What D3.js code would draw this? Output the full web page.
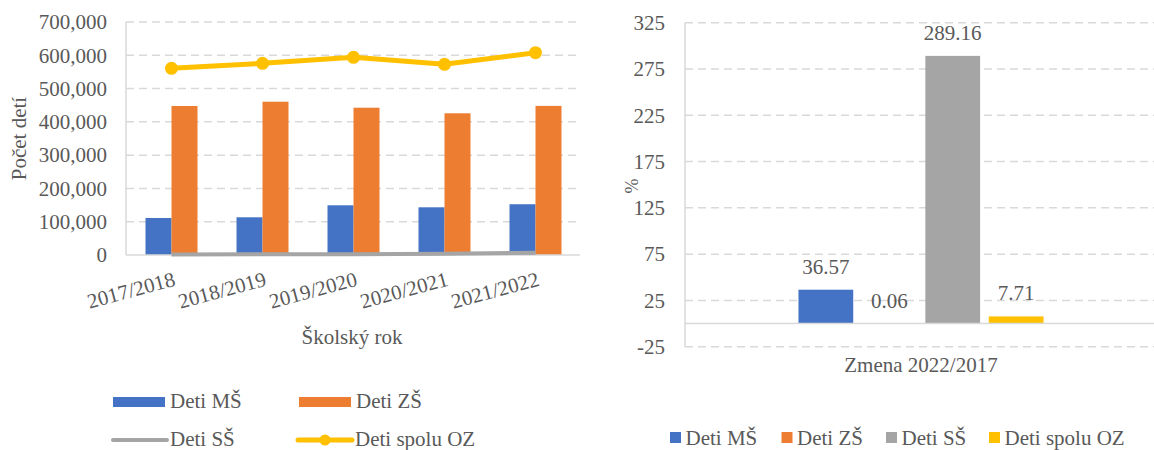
<!doctype html>
<html lang="sk">
  <head>
    <meta charset="utf-8">
    <title>Deti</title>
    <script src="https://d3js.org/d3.v7.min.js"></script>
    <style>
      body { margin: 0; background: #fff; }
      svg text { font-family: "Liberation Serif", Tinos, "DejaVu Serif", serif; fill: #595959; font-size: 21px; }
      .grid { stroke: #d9d9d9; stroke-width: 1.5; stroke-dasharray: 8,5; }
      .axisline { stroke: #d9d9d9; stroke-width: 1.5; }
    </style>
  </head>
  <body>
    <svg id="chart"></svg>
    <script>
      // data
      var years = ["2017/2018", "2018/2019", "2019/2020", "2020/2021", "2021/2022"];
      var detiMS = [111200, 113300, 149300, 143300, 152500];
      var detiZS = [447700, 460600, 442500, 425700, 448000];
      var detiSS = [1700, 2000, 2600, 3900, 6600];
      var detiOZ = [560900, 575800, 593800, 572800, 607900];
      var leftTicks = [0, 100000, 200000, 300000, 400000, 500000, 600000, 700000];

      var changeLabel = ["Zmena 2022/2017"];
      var seriesNames = ["Deti MŠ", "Deti ZŠ", "Deti SŠ", "Deti spolu OZ"];
      var changeValues = [36.57, 0.06, 289.16, 7.71];
      var rightTicks = [-25, 25, 75, 125, 175, 225, 275, 325];

      var colors = ["#4472C4", "#ED7D31", "#A5A5A5", "#FFC000"];

      var svg = d3.select("#chart")
        .attr("width", 1154)
        .attr("height", 450)
        .attr("font-family", "Liberation Serif, serif");

      // ---------- left chart ----------
      var x = d3.scaleBand().domain(years).range([126, 581]);
      var xs = d3.scaleBand().domain([0, 1]).range([0, 52]);
      var y = d3.scaleLinear().domain([0, 700000]).range([255, 22]);

      var left = svg.append("g");

      left.selectAll(".grid").data(leftTicks.slice(1)).enter()
        .append("line")
        .attr("class", "grid")
        .attr("x1", 126).attr("x2", 580)
        .attr("y1", function(d){ return y(d) })
        .attr("y2", function(d){ return y(d) });

      left.append("line").attr("class", "axisline")
        .attr("x1", 126).attr("x2", 126).attr("y1", y(700000)).attr("y2", y(0));

      left.selectAll(".ytick").data(leftTicks).enter()
        .append("text")
        .attr("class", "ytick")
        .attr("x", 107)
        .attr("y", function(d){ return y(d) })
        .attr("dy", "0.35em")
        .attr("text-anchor", "end")
        .text(d3.format(","));

      var barSeries = [detiMS, detiZS];
      barSeries.forEach(function(vals, s){
        left.selectAll(".bar" + s).data(vals).enter()
          .append("rect")
          .attr("class", "bar" + s)
          .attr("fill", colors[s])
          .attr("x", function(d, i){ return x(years[i]) + x.bandwidth() / 2 - 26 + xs(s) })
          .attr("width", xs.bandwidth())
          .attr("y", function(d){ return y(d) })
          .attr("height", function(d){ return y(0) - y(d) });
      });

      left.append("line").attr("class", "axisline")
        .attr("x1", 126).attr("x2", 580).attr("y1", y(0)).attr("y2", y(0));

      var line = d3.line()
        .x(function(d, i){ return x(years[i]) + x.bandwidth() / 2 })
        .y(function(d){ return y(d) });

      left.append("path").datum(detiSS)
        .attr("d", line)
        .attr("fill", "none")
        .attr("stroke", colors[2])
        .attr("stroke-width", 4);

      left.append("path").datum(detiOZ)
        .attr("d", line)
        .attr("fill", "none")
        .attr("stroke", colors[3])
        .attr("stroke-width", 5);

      left.selectAll(".dot").data(detiOZ).enter()
        .append("circle")
        .attr("class", "dot")
        .attr("cx", function(d, i){ return x(years[i]) + x.bandwidth() / 2 })
        .attr("cy", function(d){ return y(d) })
        .attr("r", 6.5)
        .attr("fill", colors[3]);

      left.selectAll(".xtick").data(years).enter()
        .append("text")
        .attr("class", "xtick")
        .attr("text-anchor", "end")
        .attr("dy", "0.71em")
        .attr("transform", function(d){
          return "translate(" + (x(d) + x.bandwidth() / 2 + 1) + ",271) rotate(-15)"
        })
        .text(function(d){ return d });

      left.append("text")
        .attr("x", 352).attr("y", 344)
        .attr("text-anchor", "middle")
        .text("Školský rok");

      left.append("text")
        .attr("transform", "translate(26,138.5) rotate(-90)")
        .attr("text-anchor", "middle")
        .text("Počet detí");

      // left legend
      var legL = [
        {name: seriesNames[0], x: 113, y: 402, type: "bar", c: colors[0]},
        {name: seriesNames[1], x: 299, y: 402, type: "bar", c: colors[1]},
        {name: seriesNames[2], x: 113, y: 440, type: "line", c: colors[2]},
        {name: seriesNames[3], x: 298, y: 440, type: "dot", c: colors[3]}
      ];
      legL.forEach(function(l){
        if (l.type == "bar") {
          left.append("rect").attr("x", l.x).attr("y", l.y - 5).attr("width", 52).attr("height", 10).attr("fill", l.c);
        } else {
          left.append("line").attr("x1", l.x).attr("x2", l.x + 54).attr("y1", l.y).attr("y2", l.y)
            .attr("stroke", l.c).attr("stroke-width", l.type == "dot" ? 5 : 4).attr("stroke-linecap", "round");
          if (l.type == "dot") {
            left.append("circle").attr("cx", l.x + 27).attr("cy", l.y).attr("r", 5.5).attr("fill", l.c);
          }
        }
        left.append("text").attr("x", l.x + 57).attr("y", l.y + 6).text(l.name);
      });

      // ---------- right chart ----------
      var x0 = d3.scaleBand().domain(changeLabel).range([685, 1157]).paddingOuter(0.463);
      var x1 = d3.scaleBand().domain(seriesNames).range([0, x0.bandwidth()]).paddingInner(0.137);
      var y2 = d3.scaleLinear().domain([-25, 325]).range([346.7, 22.7]);

      var right = svg.append("g");

      right.selectAll(".grid").data(rightTicks).enter()
        .append("line")
        .attr("class", "grid")
        .attr("x1", 685).attr("x2", 1154)
        .attr("y1", function(d){ return y2(d) })
        .attr("y2", function(d){ return y2(d) });

      right.append("line").attr("class", "axisline")
        .attr("x1", 685).attr("x2", 685).attr("y1", y2(325)).attr("y2", y2(-25));

      right.selectAll(".ytick").data(rightTicks).enter()
        .append("text")
        .attr("class", "ytick")
        .attr("x", 665)
        .attr("y", function(d){ return y2(d) })
        .attr("dy", "0.35em")
        .attr("text-anchor", "end")
        .text(function(d){ return d });

      right.selectAll(".cbar").data(changeValues).enter()
        .append("rect")
        .attr("class", "cbar")
        .attr("fill", function(d, i){ return colors[i] })
        .attr("x", function(d, i){ return x0(changeLabel[0]) + x1(seriesNames[i]) })
        .attr("width", x1.bandwidth())
        .attr("y", function(d){ return y2(Math.max(d, 0)) })
        .attr("height", function(d){ return Math.abs(y2(d) - y2(0)) });

      right.append("line").attr("class", "axisline")
        .attr("stroke-width", 2)
        .attr("x1", 685).attr("x2", 1154).attr("y1", y2(0)).attr("y2", y2(0));

      right.selectAll(".clabel").data(changeValues).enter()
        .append("text")
        .attr("class", "clabel")
        .attr("text-anchor", "middle")
        .attr("x", function(d, i){ return x0(changeLabel[0]) + x1(seriesNames[i]) + x1.bandwidth() / 2 })
        .attr("y", function(d){ return y2(d) - 16 })
        .text(function(d){ return d3.format(".2f")(d) });

      right.append("text")
        .attr("x", x0(changeLabel[0]) + x0.bandwidth() / 2).attr("y", 372)
        .attr("text-anchor", "middle")
        .text(changeLabel[0]);

      right.append("text")
        .attr("transform", "translate(638,186) rotate(-90)")
        .attr("text-anchor", "middle")
        .style("font-size", "18px")
        .text("%");

      // right legend
      var legX = [670, 781.5, 886, 989];
      seriesNames.forEach(function(n, i){
        right.append("rect").attr("x", legX[i]).attr("y", 432).attr("width", 11).attr("height", 11).attr("fill", colors[i]);
        right.append("text").attr("x", legX[i] + 15.5).attr("y", 445).text(n);
      });
    </script>
  </body>
</html>
